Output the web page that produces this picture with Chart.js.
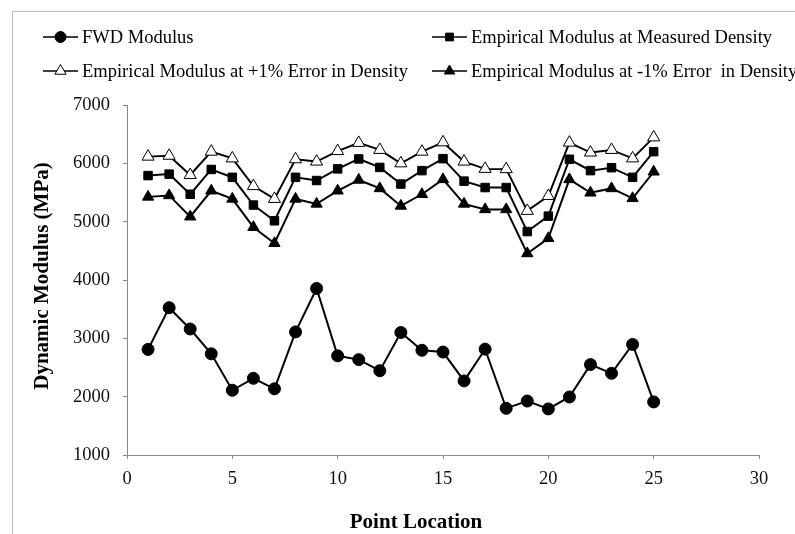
<!DOCTYPE html>
<html>
<head>
<meta charset="utf-8">
<title>Dynamic Modulus vs Point Location</title>
<script src="https://cdn.jsdelivr.net/npm/chart.js@4/dist/chart.umd.min.js"></script>
<style>
  html, body { margin: 0; padding: 0; background: #ffffff; }
  canvas { display: block; }
</style>
</head>
<body>
<canvas id="modulus-canvas" width="795" height="534"></canvas>
<script>
const pointLocation = [1, 2, 3, 4, 5, 6, 7, 8, 9, 10, 11, 12, 13, 14, 15, 16, 17, 18, 19, 20, 21, 22, 23, 24, 25];

const fwdModulus = [2810, 3525, 3160, 2735, 2110, 2315, 2135, 3110, 3855, 2700, 2635, 2445, 3100,
  2795, 2765, 2270, 2815, 1800, 1925, 1790, 1995, 2550, 2400, 2895, 1910];
const measuredDensity = [5790, 5815, 5470, 5895, 5760, 5285, 5015, 5760, 5705, 5905, 6075, 5930, 5645,
  5875, 6080, 5695, 5585, 5585, 4830, 5095, 6070, 5875, 5925, 5760, 6200];
const plusOneError = [6115, 6130, 5800, 6200, 6085, 5610, 5390, 6070, 6030, 6210, 6350, 6230, 6000,
  6200, 6360, 6030, 5905, 5900, 5185, 5440, 6355, 6185, 6230, 6085, 6445];
const minusOneError = [5425, 5450, 5085, 5530, 5390, 4905, 4630, 5390, 5305, 5530, 5715, 5570, 5270,
  5470, 5725, 5305, 5210, 5210, 4455, 4715, 5725, 5495, 5570, 5400, 5855];

const seriesNames = [
  'FWD Modulus',
  'Empirical Modulus at Measured Density',
  'Empirical Modulus at +1% Error in Density',
  'Empirical Modulus at -1% Error  in Density'
];

const xTicks = [0, 5, 10, 15, 20, 25, 30];
const yTicks = [1000, 2000, 3000, 4000, 5000, 6000, 7000];

const serif = "'Liberation Serif', 'Times New Roman', serif";
Chart.defaults.font.family = serif;

const toPoints = (values) => pointLocation.map((x, i) => ({ x: x, y: values[i] }));

function makeSeries(label, values, style, radius, fill) {
  return {
    label: label,
    data: toPoints(values),
    showLine: true,
    borderColor: '#000000',
    borderWidth: 2,
    pointStyle: style,
    pointRadius: radius,
    pointBorderWidth: 1,
    pointBorderColor: '#000000',
    pointBackgroundColor: fill,
    tension: 0
  };
}

// legend + axis titles + frame, laid out like the original spreadsheet chart
const decorPlugin = {
  id: 'decor',
  afterDraw(chart) {
    const ctx = chart.ctx;
    ctx.save();

    // dotted chart frame
    ctx.strokeStyle = '#7a7a7a';
    ctx.lineWidth = 1;
    ctx.setLineDash([1, 1]);
    ctx.strokeRect(12.5, 11.5, 900, 700);
    ctx.setLineDash([]);

    // legend, two columns by two rows
    const slots = [[43, 37], [432, 37], [43, 71], [432, 71]];
    chart.data.datasets.forEach((ds, i) => {
      const [lx, ly] = slots[i];
      ctx.strokeStyle = '#000000';
      ctx.lineWidth = 1.5;
      ctx.beginPath();
      ctx.moveTo(lx, ly);
      ctx.lineTo(lx + 35, ly);
      ctx.stroke();
      ctx.fillStyle = ds.pointBackgroundColor;
      ctx.strokeStyle = '#000000';
      ctx.lineWidth = 1;
      if (Chart.helpers && Chart.helpers.drawPoint) {
        Chart.helpers.drawPoint(ctx, {
          pointStyle: ds.pointStyle,
          radius: ds.pointRadius - 0.5,
          borderWidth: 1,
          rotation: 0
        }, lx + 17.5, ly);
      }
      ctx.fillStyle = '#000000';
      ctx.font = '18.5px ' + serif;
      ctx.textAlign = 'left';
      ctx.textBaseline = 'middle';
      ctx.fillText(ds.label, lx + 39, ly + 1);
    });

    // axis titles
    ctx.fillStyle = '#000000';
    ctx.font = 'bold 21px ' + serif;
    ctx.textAlign = 'center';
    ctx.textBaseline = 'middle';
    ctx.fillText('Point Location', 416, 523);

    ctx.translate(43, 276);
    ctx.rotate(-Math.PI / 2);
    ctx.fillText('Dynamic Modulus (MPa)', 0, 0);
    ctx.restore();
  }
};

const ctx = document.getElementById('modulus-canvas').getContext('2d');

const modulusChart = new Chart(ctx, {
  type: 'scatter',
  data: {
    datasets: [
      makeSeries(seriesNames[0], fwdModulus, 'circle', 6, '#000000'),
      makeSeries(seriesNames[1], measuredDensity, 'rect', 6, '#000000'),
      makeSeries(seriesNames[2], plusOneError, 'triangle', 7, '#ffffff'),
      makeSeries(seriesNames[3], minusOneError, 'triangle', 6.5, '#000000')
    ]
  },
  options: {
    responsive: false,
    devicePixelRatio: 1,
    animation: false,
    layout: {
      padding: { left: 0, top: 105, right: 36, bottom: 0 }
    },
    plugins: {
      legend: { display: false },
      tooltip: { enabled: false }
    },
    scales: {
      x: {
        type: 'linear',
        min: xTicks[0],
        max: xTicks[xTicks.length - 1],
        afterFit: (scale) => { scale.height = 79; },
        afterBuildTicks: (scale) => { scale.ticks = xTicks.map(v => ({ value: v })); },
        border: { color: '#8a8a8a', width: 1 },
        grid: {
          drawOnChartArea: false,
          drawTicks: true,
          tickLength: 4,
          color: '#8a8a8a'
        },
        ticks: {
          color: '#111111',
          padding: 9,
          font: { size: 18.5 },
          callback: (value) => String(value)
        }
      },
      y: {
        min: yTicks[0],
        max: yTicks[yTicks.length - 1],
        afterFit: (scale) => { scale.width = 127; },
        afterBuildTicks: (scale) => { scale.ticks = yTicks.map(v => ({ value: v })); },
        border: { color: '#8a8a8a', width: 1 },
        grid: {
          drawOnChartArea: false,
          drawTicks: true,
          tickLength: 4,
          color: '#8a8a8a'
        },
        ticks: {
          color: '#111111',
          padding: 13,
          font: { size: 18.5 },
          callback: (value) => String(value)
        }
      }
    }
  },
  plugins: [decorPlugin]
});
</script>
</body>
</html>
